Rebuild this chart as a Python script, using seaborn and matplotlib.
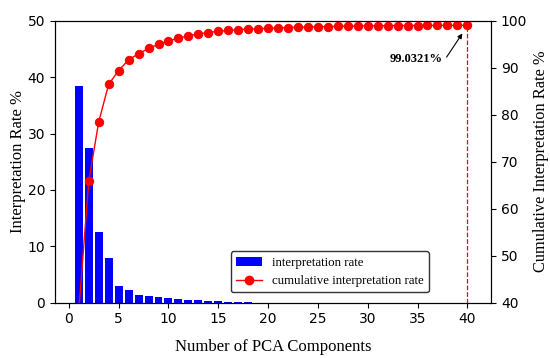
import matplotlib
matplotlib.use("Agg")
import matplotlib.pyplot as plt
import seaborn as sns
import numpy as np
import pandas as pd
from matplotlib.patches import Patch
from matplotlib.lines import Line2D

components = list(range(1, 41))
interp_rate = [38.4, 27.5, 12.6, 8.0, 2.9, 2.3, 1.4, 1.1, 0.95, 0.85,
               0.7, 0.5, 0.4, 0.3, 0.25, 0.2, 0.15, 0.12, 0.02, 0.02,
               0.015, 0.015, 0.012, 0.01, 0.01, 0.01, 0.008, 0.008, 0.007, 0.007,
               0.006, 0.006, 0.005, 0.005, 0.005, 0.004, 0.004, 0.004, 0.003, 0.003]
cum_rate = [38.4, 65.9, 78.5, 86.5, 89.4, 91.7, 93.0, 94.1, 95.0, 95.7,
            96.3, 96.8, 97.2, 97.5, 97.75, 97.95, 98.1, 98.2, 98.3, 98.4,
            98.48, 98.55, 98.62, 98.68, 98.73, 98.77, 98.81, 98.85, 98.88, 98.91,
            98.93, 98.95, 98.97, 98.98, 98.99, 99.0, 99.01, 99.02, 99.03, 99.0321]
x_ticks = [0, 5, 10, 15, 20, 25, 30, 35, 40]
left_ticks = [0, 10, 20, 30, 40, 50]
right_ticks = [40, 50, 60, 70, 80, 90, 100]

df = pd.DataFrame({"n": components, "rate": interp_rate, "cum": cum_rate})

serif = ["Liberation Serif", "DejaVu Serif"]

fig = plt.figure(figsize=(5.5, 3.58), dpi=100)
ax = fig.add_axes([0.1, 0.1545, 0.793, 0.7875])
sns.barplot(data=df, x="n", y="rate", native_scale=True, color="#0000ff",
            saturation=1, width=0.8, ax=ax, errorbar=None)
ax.set_xlim(-1.39, 42.39)
ax.set_ylim(0, 50)
ax.set_xticks(x_ticks)
ax.set_xticklabels([str(t) for t in x_ticks])
ax.set_yticks(left_ticks)
ax.tick_params(labelsize=10)
ax.set_xlabel("Number of PCA Components", family=serif, fontsize=12, labelpad=9)
ax.set_ylabel("Interpretation Rate %", family=serif, fontsize=12, labelpad=1.5)

ax2 = ax.twinx()
sns.lineplot(data=df, x="n", y="cum", color="red", marker="o", markersize=6,
             markeredgecolor="red", linewidth=1, ax=ax2)
ax2.set_ylim(40, 100)
ax2.set_yticks(right_ticks)
ax2.tick_params(labelsize=10)
ax2.set_ylabel("Cumulative Interpretation Rate %", family=serif, fontsize=11.8)
ax2.plot([components[-1], components[-1]], [40, cum_rate[-1]], color="red",
         linestyle="--", linewidth=0.9)
ax2.annotate(f"{cum_rate[-1]:.4f}%", xy=(39.5, 97.3), xytext=(34.9, 91.9),
             ha="center", va="center", fontsize=9, fontweight="bold", family=serif,
             arrowprops=dict(arrowstyle="-|>", mutation_scale=7, color="black",
                             lw=0.8, relpos=(1.0, 0.2), shrinkA=1, shrinkB=0))

handles = [Patch(facecolor="#0000ff", label="interpretation rate"),
           Line2D([0], [0], color="red", marker="o", markersize=6, lw=1,
                  label="cumulative interpretation rate")]
leg = ax2.legend(handles=handles, loc="lower right", bbox_to_anchor=(0.857, 0.037),
                 borderaxespad=0, prop={"family": serif, "size": 9.3},
                 framealpha=1, edgecolor="#333333")

fig.savefig("out.png", dpi=100)
